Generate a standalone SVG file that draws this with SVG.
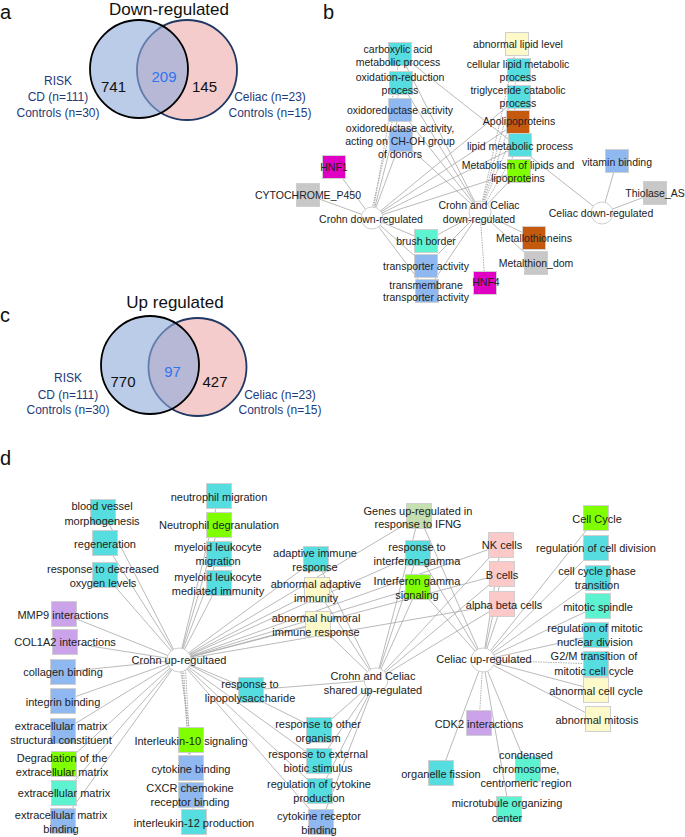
<svg xmlns="http://www.w3.org/2000/svg" width="685" height="837" viewBox="0 0 685 837">
<style>
text{font-family:"Liberation Sans",Arial,sans-serif;fill:#222}
.pl{font-size:20px;fill:#111}
.ttl{font-size:17px;text-anchor:middle;fill:#111}
.num{font-size:15px;text-anchor:middle;fill:#111}
.mid{font-size:15px;text-anchor:middle;fill:#2e75f0}
.vl{font-size:12px;text-anchor:middle;fill:#1f3a7a}
.tb{font-size:10.5px;text-anchor:middle}
.td{font-size:11px;text-anchor:middle}
.e{stroke:#a8a8a8;stroke-width:0.8;fill:none}
.ed{stroke:#9a9a9a;stroke-width:0.8;fill:none;stroke-dasharray:1.5 1}
rect{stroke:#cfcfcf;stroke-width:1}
.hub{fill:#fff;stroke:#cfcfcf;stroke-width:1}
.teal{fill:#56dde0}.aqua{fill:#5df2d0}.blue{fill:#90b8f0}.green{fill:#80ff00}
.yel{fill:#fdf9c9}.pink{fill:#fcc9c9}.purp{fill:#cba3ea}.lgr{fill:#c5dfb0}
.mag{fill:#e000c3}.org{fill:#c55a0e}.grey{fill:#c8c8c8}
</style>

<!-- Panel a -->
<g id="panel-a">
<text class="pl" x="0" y="19">a</text>
<text class="ttl" x="169" y="15">Down-regulated</text>
<circle cx="187" cy="70" r="50" fill="#f4cccc" stroke="#1f3864" stroke-width="1.8"/>
<circle cx="139" cy="69" r="49" fill="#8eaadb" fill-opacity="0.6" stroke="none"/>
<circle cx="139" cy="69" r="49" fill="none" stroke="#000" stroke-width="1.8"/>
<text class="num" x="113.5" y="92">741</text>
<text class="mid" x="164" y="82">209</text>
<text class="num" x="204.5" y="92">145</text>
<text class="vl" x="58" y="85">RISK</text>
<text class="vl" x="58" y="101">CD (n=111)</text>
<text class="vl" x="58" y="117">Controls (n=30)</text>
<text class="vl" x="270" y="101">Celiac (n=23)</text>
<text class="vl" x="270" y="117">Controls (n=15)</text>
</g>

<!-- Panel c -->
<g id="panel-c">
<text class="pl" x="0" y="322">c</text>
<text class="ttl" x="175" y="308">Up regulated</text>
<circle cx="197.5" cy="367" r="49" fill="#f4cccc" stroke="#1f3864" stroke-width="1.8"/>
<circle cx="150" cy="365" r="49" fill="#8eaadb" fill-opacity="0.6" stroke="none"/>
<circle cx="150" cy="365" r="49" fill="none" stroke="#000" stroke-width="1.8"/>
<text class="num" x="123" y="387">770</text>
<text class="mid" x="172.5" y="377">97</text>
<text class="num" x="215" y="387">427</text>
<text class="vl" x="68" y="382">RISK</text>
<text class="vl" x="68" y="399">CD (n=111)</text>
<text class="vl" x="68" y="414">Controls (n=30)</text>
<text class="vl" x="280" y="399">Celiac (n=23)</text>
<text class="vl" x="280" y="414">Controls (n=15)</text>
</g>

<text class="pl" x="323" y="19">b</text>
<text class="pl" x="0" y="465">d</text>

<!-- Connectors -->
<g id="connectors">
<!-- panel b: Crohn down-regulated -->
<line class="e" x1="372" y1="218" x2="334" y2="167"/>
<line class="e" x1="372" y1="218" x2="308" y2="195"/>
<line class="ed" x1="372" y1="218" x2="400" y2="54"/>
<line class="ed" x1="370" y1="218" x2="401" y2="83"/>
<line class="e" x1="372" y1="218" x2="400" y2="110"/>
<line class="e" x1="372" y1="218" x2="401" y2="140"/>
<line class="e" x1="372" y1="218" x2="519" y2="97"/>
<line class="e" x1="372" y1="218" x2="518" y2="122"/>
<line class="e" x1="372" y1="218" x2="520" y2="145"/>
<line class="e" x1="372" y1="218" x2="519" y2="171"/>
<line class="e" x1="372" y1="218" x2="426" y2="241"/>
<line class="e" x1="372" y1="218" x2="426" y2="266"/>
<line class="e" x1="372" y1="218" x2="427" y2="291"/>
<!-- panel b: Crohn and Celiac down-regulated -->
<line class="e" x1="480" y1="212" x2="400" y2="54"/>
<line class="e" x1="480" y1="212" x2="401" y2="83"/>
<line class="e" x1="480" y1="212" x2="400" y2="110"/>
<line class="e" x1="480" y1="212" x2="401" y2="140"/>
<line class="ed" x1="480" y1="212" x2="517" y2="44"/>
<line class="ed" x1="480" y1="212" x2="519" y2="70"/>
<line class="ed" x1="480" y1="212" x2="519" y2="97"/>
<line class="ed" x1="480" y1="212" x2="518" y2="122"/>
<line class="ed" x1="480" y1="212" x2="520" y2="145"/>
<line class="e" x1="480" y1="212" x2="519" y2="171"/>
<line class="e" x1="480" y1="212" x2="426" y2="241"/>
<line class="e" x1="480" y1="212" x2="426" y2="266"/>
<line class="e" x1="480" y1="212" x2="427" y2="291"/>
<line class="ed" x1="480" y1="212" x2="485" y2="283"/>
<line class="e" x1="480" y1="212" x2="534" y2="238"/>
<line class="e" x1="480" y1="212" x2="536" y2="263"/>
<!-- panel b: Celiac down-regulated -->
<line class="e" x1="602" y1="213" x2="400" y2="54"/>
<line class="e" x1="602" y1="213" x2="617" y2="161"/>
<line class="e" x1="602" y1="213" x2="655" y2="193"/>

<!-- panel d: Crohn up-regultaed -->
<line class="e" x1="179" y1="660" x2="103" y2="512"/>
<line class="e" x1="179" y1="660" x2="105" y2="543"/>
<line class="e" x1="179" y1="660" x2="105" y2="575"/>
<line class="e" x1="179" y1="660" x2="64" y2="614"/>
<line class="e" x1="179" y1="660" x2="65" y2="642"/>
<line class="e" x1="179" y1="660" x2="63" y2="672"/>
<line class="e" x1="179" y1="660" x2="63" y2="701"/>
<line class="e" x1="179" y1="660" x2="63" y2="731"/>
<line class="e" x1="179" y1="660" x2="64" y2="764"/>
<line class="e" x1="179" y1="660" x2="64" y2="793"/>
<line class="e" x1="179" y1="660" x2="63" y2="821"/>
<line class="e" x1="179" y1="660" x2="219" y2="496"/>
<line class="e" x1="179" y1="660" x2="219" y2="525"/>
<line class="e" x1="179" y1="660" x2="219" y2="554"/>
<line class="e" x1="179" y1="660" x2="219" y2="583"/>
<line class="ed" x1="179" y1="660" x2="191" y2="740"/>
<line class="ed" x1="181" y1="660" x2="191" y2="768"/>
<line class="ed" x1="183" y1="660" x2="191" y2="795"/>
<line class="ed" x1="185" y1="660" x2="194" y2="822"/>
<line class="e" x1="179" y1="660" x2="251" y2="690"/>
<line class="e" x1="179" y1="660" x2="316" y2="559"/>
<line class="e" x1="179" y1="660" x2="317" y2="590"/>
<line class="e" x1="179" y1="660" x2="318" y2="624"/>
<line class="e" x1="179" y1="660" x2="419" y2="516"/>
<line class="e" x1="179" y1="660" x2="418" y2="553"/>
<line class="e" x1="179" y1="660" x2="418" y2="587"/>
<line class="e" x1="179" y1="660" x2="501" y2="545"/>
<line class="e" x1="179" y1="660" x2="502" y2="574"/>
<line class="e" x1="179" y1="660" x2="502" y2="604"/>
<line class="e" x1="179" y1="660" x2="319" y2="730"/>
<line class="e" x1="179" y1="660" x2="319" y2="761"/>
<line class="e" x1="179" y1="660" x2="320" y2="791"/>
<line class="e" x1="179" y1="660" x2="321" y2="822"/>
<!-- panel d: Crohn and Celiac shared up-regulated -->
<line class="e" x1="376" y1="680" x2="316" y2="559"/>
<line class="e" x1="376" y1="680" x2="317" y2="590"/>
<line class="e" x1="376" y1="680" x2="318" y2="624"/>
<line class="e" x1="376" y1="680" x2="419" y2="516"/>
<line class="e" x1="376" y1="680" x2="418" y2="553"/>
<line class="e" x1="376" y1="680" x2="418" y2="587"/>
<line class="e" x1="376" y1="680" x2="501" y2="545"/>
<line class="e" x1="376" y1="680" x2="502" y2="574"/>
<line class="e" x1="376" y1="680" x2="502" y2="604"/>
<line class="e" x1="376" y1="680" x2="251" y2="690"/>
<line class="e" x1="376" y1="680" x2="319" y2="730"/>
<line class="e" x1="376" y1="680" x2="319" y2="761"/>
<line class="e" x1="376" y1="680" x2="320" y2="791"/>
<line class="e" x1="376" y1="680" x2="321" y2="822"/>
<!-- panel d: Celiac up-regulated -->
<line class="e" x1="483" y1="660" x2="596" y2="518"/>
<line class="e" x1="483" y1="660" x2="596" y2="548"/>
<line class="e" x1="483" y1="660" x2="598" y2="578"/>
<line class="e" x1="483" y1="660" x2="598" y2="606"/>
<line class="e" x1="483" y1="660" x2="596" y2="635"/>
<line class="ed" x1="483" y1="660" x2="596" y2="664"/>
<line class="e" x1="483" y1="660" x2="596" y2="690"/>
<line class="e" x1="483" y1="660" x2="598" y2="719"/>
<line class="ed" x1="483" y1="660" x2="479" y2="723"/>
<line class="e" x1="483" y1="660" x2="441" y2="773"/>
<line class="e" x1="483" y1="660" x2="528" y2="769"/>
<line class="e" x1="483" y1="660" x2="509" y2="809"/>
<line class="e" x1="483" y1="660" x2="501" y2="545"/>
<line class="e" x1="483" y1="660" x2="502" y2="574"/>
<line class="e" x1="483" y1="660" x2="502" y2="604"/>
<line class="e" x1="483" y1="660" x2="419" y2="516"/>
<line class="e" x1="483" y1="660" x2="418" y2="553"/>
<line class="e" x1="483" y1="660" x2="418" y2="587"/>
</g>

<!-- Panel b nodes -->
<g id="b-carboxylic"><rect class="teal" x="388.5" y="42.5" width="23" height="23"/><text class="tb" x="398" y="53">carboxylic acid</text><text class="tb" x="398" y="66">metabolic process</text></g>
<g id="b-oxidation"><rect class="teal" x="389.5" y="71.5" width="23" height="23"/><text class="tb" x="400" y="81">oxidation-reduction</text><text class="tb" x="400" y="94">process</text></g>
<g id="b-oxidoreductase"><rect class="blue" x="388.5" y="98.5" width="23" height="23"/><text class="tb" x="400" y="114">oxidoreductase activity</text></g>
<g id="b-choh"><rect class="blue" x="389.5" y="128.5" width="23" height="23"/><text class="tb" x="400" y="132">oxidoreductase activity,</text><text class="tb" x="400" y="145">acting on CH-OH group</text><text class="tb" x="400" y="158">of donors</text></g>
<g id="b-abnlipid"><rect class="yel" x="505.5" y="32.5" width="23" height="23"/><text class="tb" x="518" y="48">abnormal lipid level</text></g>
<g id="b-cellular"><rect class="teal" x="507.5" y="58.5" width="23" height="23"/><text class="tb" x="518" y="68">cellular lipid metabolic</text><text class="tb" x="518" y="81">process</text></g>
<g id="b-trig"><rect class="teal" x="507.5" y="85.5" width="23" height="23"/><text class="tb" x="518" y="94">triglyceride catabolic</text><text class="tb" x="518" y="107">process</text></g>
<g id="b-apo"><rect class="org" x="506.5" y="110.5" width="23" height="23"/><text class="tb" x="519" y="125">Apolipoproteins</text></g>
<g id="b-lipm"><rect class="teal" x="508.5" y="133.5" width="23" height="23"/><text class="tb" x="520" y="150">lipid metabolic process</text></g>
<g id="b-metab"><rect class="green" x="507.5" y="159.5" width="23" height="23"/><text class="tb" x="518" y="169">Metabolism of lipids and</text><text class="tb" x="518" y="182">lipoproteins</text></g>
<g id="b-vit"><rect class="blue" x="605.5" y="149.5" width="23" height="23"/><text class="tb" x="617" y="166">vitamin binding</text></g>
<g id="b-thio"><rect class="grey" x="643.5" y="181.5" width="23" height="23"/><text class="tb" x="655" y="197">Thiolase_AS</text></g>
<g id="b-hnf1"><rect class="mag" x="322.5" y="155.5" width="23" height="23"/><text class="tb" x="334" y="171">HNF1</text></g>
<g id="b-cyp"><rect class="grey" x="296.5" y="183.5" width="23" height="23"/><text class="tb" x="308" y="199">CYTOCHROME_P450</text></g>
<g id="b-brush"><rect class="aqua" x="414.5" y="229.5" width="23" height="23"/><text class="tb" x="426" y="245">brush border</text></g>
<g id="b-transp"><rect class="blue" x="414.5" y="254.5" width="23" height="23"/><text class="tb" x="426" y="270">transporter activity</text></g>
<g id="b-tmem"><rect class="blue" x="415.5" y="279.5" width="23" height="23"/><text class="tb" x="426" y="289">transmembrane</text><text class="tb" x="426" y="301">transporter activity</text></g>
<g id="b-hnf4"><rect class="mag" x="473.5" y="271.5" width="23" height="23"/><text class="tb" x="486" y="286">HNF4</text></g>
<g id="b-mtn"><rect class="org" x="522.5" y="226.5" width="23" height="23"/><text class="tb" x="534" y="242">Metallothioneins</text></g>
<g id="b-mtd"><rect class="grey" x="524.5" y="251.5" width="23" height="23"/><text class="tb" x="536" y="267">Metalthion_dom</text></g>
<g id="b-hub-crohn"><circle class="hub" cx="372" cy="218" r="11"/><text class="tb" x="371" y="223">Crohn down-regulated</text></g>
<g id="b-hub-shared"><circle class="hub" cx="480" cy="212" r="11"/><text class="tb" x="479" y="209">Crohn and Celiac</text><text class="tb" x="479" y="223">down-regulated</text></g>
<g id="b-hub-celiac"><circle class="hub" cx="602" cy="213" r="11"/><text class="tb" x="601" y="217">Celiac down-regulated</text></g>

<!-- Panel d nodes -->
<g id="d-bv"><rect class="teal" x="90.5" y="499.5" width="25" height="25"/><text class="td" x="102" y="510">blood vessel</text><text class="td" x="102" y="525">morphogenesis</text></g>
<g id="d-regen"><rect class="teal" x="92.5" y="530.5" width="25" height="25"/><text class="td" x="105" y="548">regeneration</text></g>
<g id="d-o2"><rect class="teal" x="92.5" y="562.5" width="25" height="25"/><text class="td" x="103" y="573">response to decreased</text><text class="td" x="103" y="587">oxygen levels</text></g>
<g id="d-mmp9"><rect class="purp" x="51.5" y="601.5" width="25" height="25"/><text class="td" x="63" y="619">MMP9 interactions</text></g>
<g id="d-col1a2"><rect class="purp" x="52.5" y="629.5" width="25" height="25"/><text class="td" x="65" y="646">COL1A2 interactions</text></g>
<g id="d-collb"><rect class="blue" x="50.5" y="659.5" width="25" height="25"/><text class="td" x="63" y="676">collagen binding</text></g>
<g id="d-integ"><rect class="blue" x="50.5" y="688.5" width="25" height="25"/><text class="td" x="63" y="706">integrin binding</text></g>
<g id="d-ecms"><rect class="blue" x="50.5" y="718.5" width="25" height="25"/><text class="td" x="61" y="730">extracellular matrix</text><text class="td" x="61" y="744">structural constituent</text></g>
<g id="d-degr"><rect class="green" x="51.5" y="751.5" width="25" height="25"/><text class="td" x="62" y="762">Degradation of the</text><text class="td" x="62" y="776">extracellular matrix</text></g>
<g id="d-ecm"><rect class="aqua" x="51.5" y="780.5" width="25" height="25"/><text class="td" x="64" y="797">extracellular matrix</text></g>
<g id="d-ecmb"><rect class="blue" x="50.5" y="808.5" width="25" height="25"/><text class="td" x="61" y="819">extracellular matrix</text><text class="td" x="61" y="833">binding</text></g>
<g id="d-nmig"><rect class="teal" x="206.5" y="483.5" width="25" height="25"/><text class="td" x="219" y="501">neutrophil migration</text></g>
<g id="d-ndeg"><rect class="green" x="206.5" y="512.5" width="25" height="25"/><text class="td" x="219" y="529">Neutrophil degranulation</text></g>
<g id="d-mlm"><rect class="teal" x="206.5" y="541.5" width="25" height="25"/><text class="td" x="218" y="551">myeloid leukocyte</text><text class="td" x="218" y="565">migration</text></g>
<g id="d-mlmi"><rect class="teal" x="206.5" y="570.5" width="25" height="25"/><text class="td" x="218" y="581">myeloid leukocyte</text><text class="td" x="218" y="595">mediated immunity</text></g>
<g id="d-il10"><rect class="green" x="178.5" y="727.5" width="25" height="25"/><text class="td" x="191" y="745">Interleukin-10 signaling</text></g>
<g id="d-cytb"><rect class="blue" x="178.5" y="755.5" width="25" height="25"/><text class="td" x="191" y="773">cytokine binding</text></g>
<g id="d-cxcr"><rect class="blue" x="178.5" y="782.5" width="25" height="25"/><text class="td" x="190" y="792">CXCR chemokine</text><text class="td" x="190" y="806">receptor binding</text></g>
<g id="d-il12"><rect class="teal" x="181.5" y="809.5" width="25" height="25"/><text class="td" x="194" y="827">interleukin-12 production</text></g>
<g id="d-adap"><rect class="teal" x="303.5" y="546.5" width="25" height="25"/><text class="td" x="315" y="557">adaptive immune</text><text class="td" x="315" y="571">response</text></g>
<g id="d-abad"><rect class="yel" x="304.5" y="577.5" width="25" height="25"/><text class="td" x="316" y="588">abnormal adaptive</text><text class="td" x="316" y="602">immunity</text></g>
<g id="d-abhum"><rect class="yel" x="305.5" y="611.5" width="25" height="25"/><text class="td" x="316" y="622">abnormal humoral</text><text class="td" x="316" y="636">immune response</text></g>
<g id="d-genes"><rect class="lgr" x="406.5" y="503.5" width="25" height="25"/><text class="td" x="418" y="515">Genes up-regulated in</text><text class="td" x="418" y="528">response to IFNG</text></g>
<g id="d-rifn"><rect class="teal" x="405.5" y="540.5" width="25" height="25"/><text class="td" x="417" y="551">response to</text><text class="td" x="417" y="565">interferon-gamma</text></g>
<g id="d-ifns"><rect class="green" x="405.5" y="574.5" width="25" height="25"/><text class="td" x="417" y="585">Interferon gamma</text><text class="td" x="417" y="599">signaling</text></g>
<g id="d-nk"><rect class="pink" x="488.5" y="532.5" width="25" height="25"/><text class="td" x="502" y="549">NK cells</text></g>
<g id="d-bc"><rect class="pink" x="489.5" y="561.5" width="25" height="25"/><text class="td" x="502" y="579">B cells</text></g>
<g id="d-ab"><rect class="pink" x="489.5" y="591.5" width="25" height="25"/><text class="td" x="504" y="609">alpha beta cells</text></g>
<g id="d-cc"><rect class="green" x="583.5" y="505.5" width="25" height="25"/><text class="td" x="597" y="523">Cell Cycle</text></g>
<g id="d-rcd"><rect class="teal" x="583.5" y="535.5" width="25" height="25"/><text class="td" x="596" y="552">regulation of cell division</text></g>
<g id="d-ccpt"><rect class="teal" x="585.5" y="565.5" width="25" height="25"/><text class="td" x="597" y="575">cell cycle phase</text><text class="td" x="597" y="589">transition</text></g>
<g id="d-ms"><rect class="aqua" x="585.5" y="593.5" width="25" height="25"/><text class="td" x="598" y="611">mitotic spindle</text></g>
<g id="d-rmnd"><rect class="teal" x="583.5" y="622.5" width="25" height="25"/><text class="td" x="595" y="632">regulation of mitotic</text><text class="td" x="595" y="646">nuclear division</text></g>
<g id="d-g2m"><rect class="teal" x="583.5" y="651.5" width="25" height="25"/><text class="td" x="594" y="660">G2/M transition of</text><text class="td" x="594" y="675">mitotic cell cycle</text></g>
<g id="d-acc"><rect class="yel" x="583.5" y="677.5" width="25" height="25"/><text class="td" x="596" y="695">abnormal cell cycle</text></g>
<g id="d-am"><rect class="yel" x="585.5" y="706.5" width="25" height="25"/><text class="td" x="597" y="724">abnormal mitosis</text></g>
<g id="d-cdk2"><rect class="purp" x="466.5" y="710.5" width="25" height="25"/><text class="td" x="479" y="728">CDK2 interactions</text></g>
<g id="d-org"><rect class="teal" x="428.5" y="760.5" width="25" height="25"/><text class="td" x="441" y="778">organelle fission</text></g>
<g id="d-cond"><rect class="aqua" x="515.5" y="756.5" width="25" height="25"/><text class="td" x="526" y="759">condensed</text><text class="td" x="526" y="773">chromosome,</text><text class="td" x="526" y="787">centromeric region</text></g>
<g id="d-mtoc"><rect class="aqua" x="496.5" y="796.5" width="25" height="25"/><text class="td" x="507" y="807">microtubule organizing</text><text class="td" x="507" y="822">center</text></g>
<g id="d-lps"><rect class="teal" x="238.5" y="677.5" width="25" height="25"/><text class="td" x="250" y="688">response to</text><text class="td" x="250" y="702">lipopolysaccharide</text></g>
<g id="d-rother"><rect class="teal" x="306.5" y="717.5" width="25" height="25"/><text class="td" x="318" y="728">response to other</text><text class="td" x="318" y="742">organism</text></g>
<g id="d-rext"><rect class="teal" x="306.5" y="748.5" width="25" height="25"/><text class="td" x="318" y="758">response to external</text><text class="td" x="318" y="772">biotic stimulus</text></g>
<g id="d-rcyt"><rect class="teal" x="307.5" y="778.5" width="25" height="25"/><text class="td" x="319" y="788">regulation of cytokine</text><text class="td" x="319" y="802">production</text></g>
<g id="d-cytr"><rect class="blue" x="308.5" y="809.5" width="25" height="25"/><text class="td" x="319" y="820">cytokine receptor</text><text class="td" x="319" y="834">binding</text></g>
<g id="d-hub-crohn"><circle class="hub" cx="179" cy="660" r="12"/><text class="td" x="179" y="664">Crohn up-regultaed</text></g>
<g id="d-hub-shared"><circle class="hub" cx="376" cy="680" r="12"/><text class="td" x="373" y="680">Crohn and Celiac</text><text class="td" x="373" y="694">shared up-regulated</text></g>
<g id="d-hub-celiac"><circle class="hub" cx="483" cy="660" r="12"/><text class="td" x="484" y="663">Celiac up-regulated</text></g>
</svg>
